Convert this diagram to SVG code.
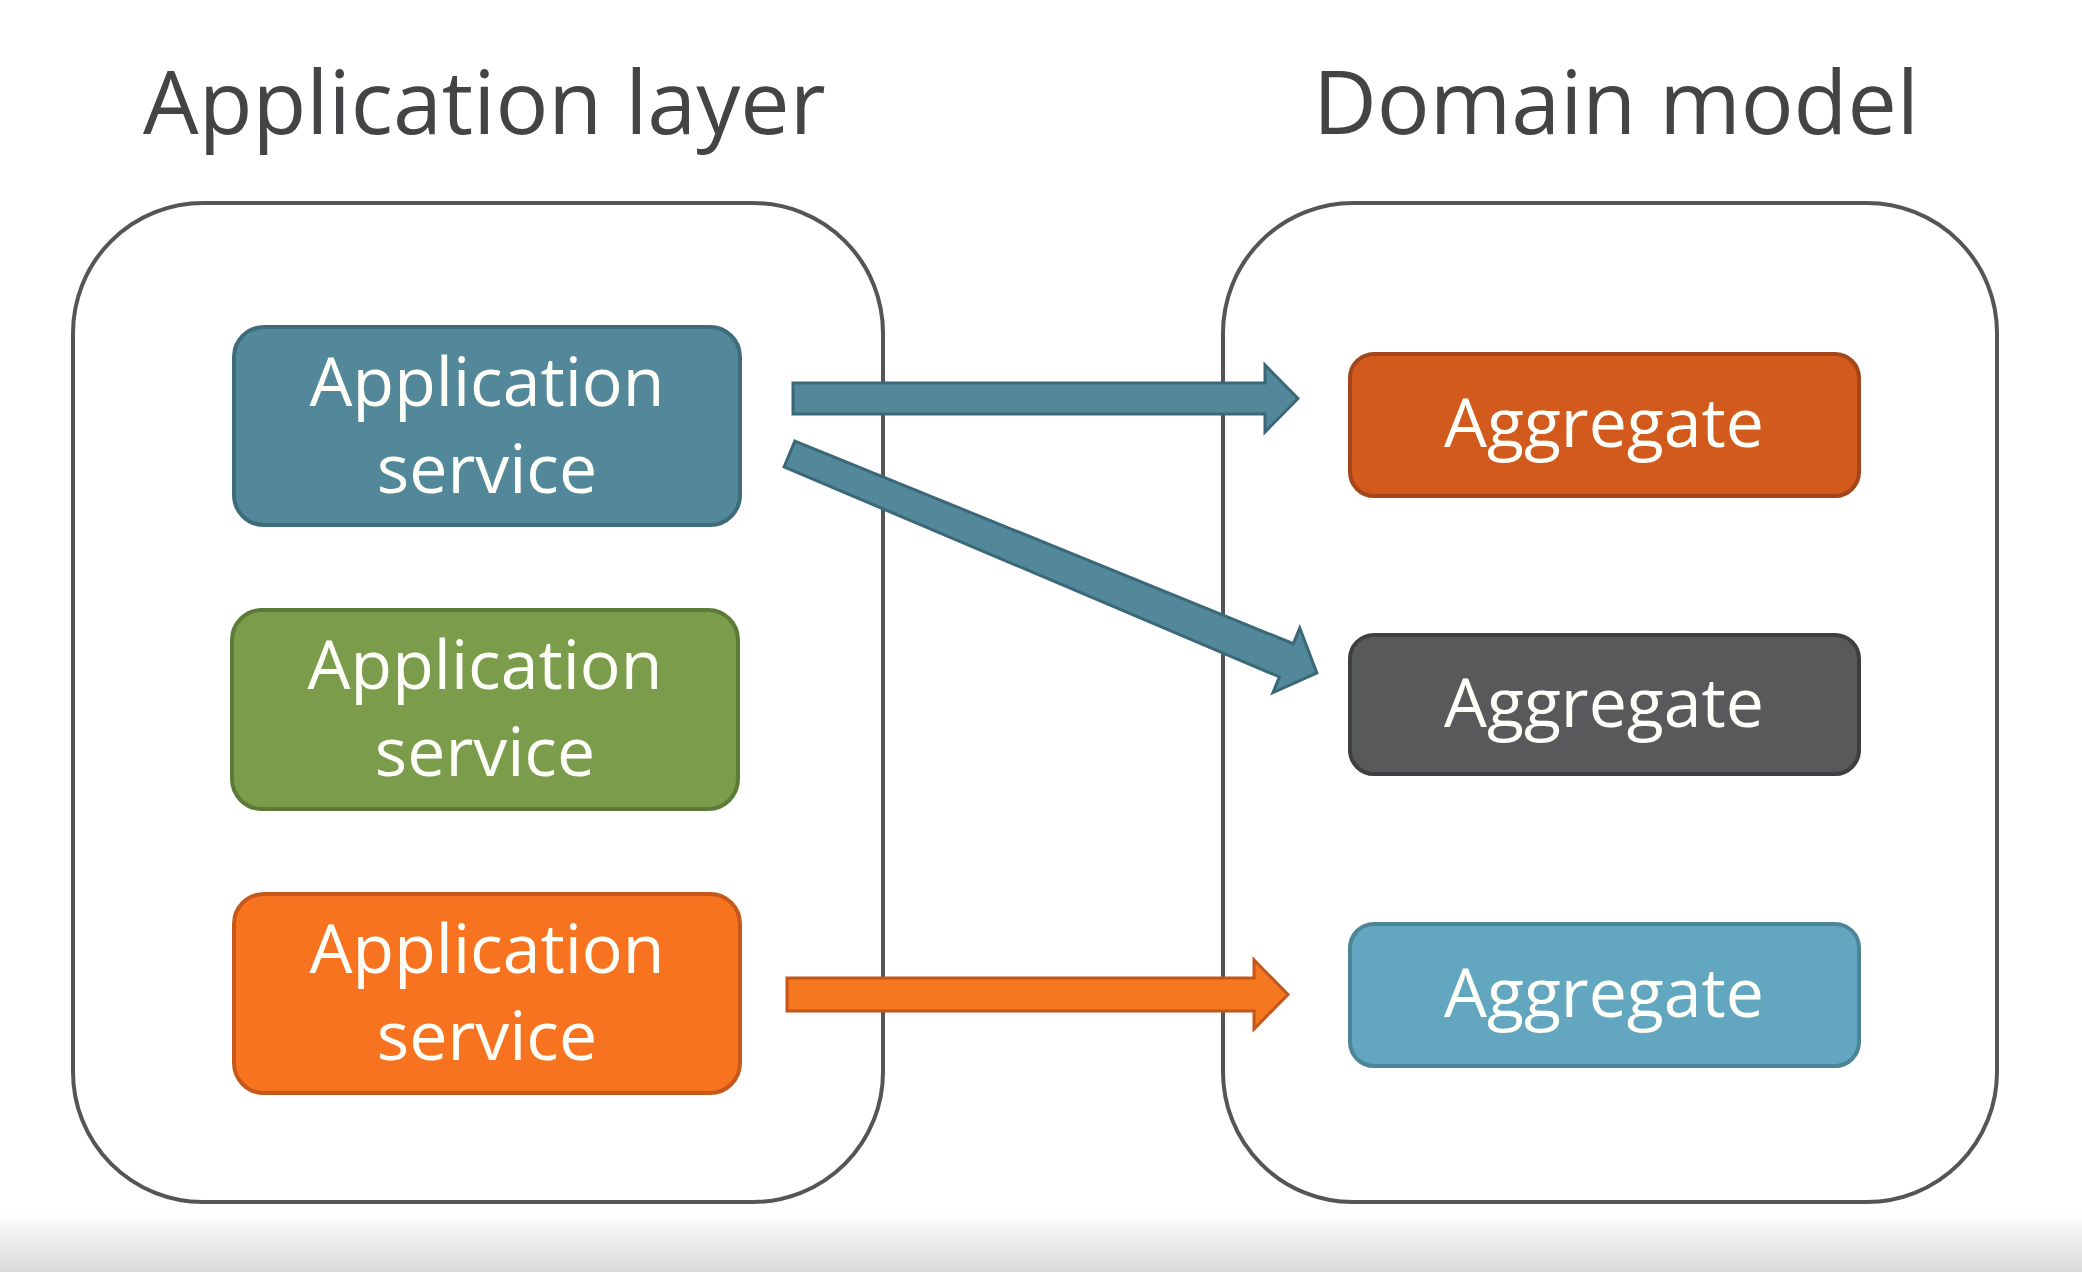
<svg xmlns="http://www.w3.org/2000/svg" width="2082" height="1272" viewBox="0 0 2082 1272">
<defs>
<linearGradient id="band" x1="0" y1="0" x2="0" y2="1">
<stop offset="0" stop-color="#ffffff"/>
<stop offset="1" stop-color="#d9d9d9"/>
</linearGradient>
<style>
.title{font-family:"Open Sans","Noto Sans","Liberation Sans",sans-serif;font-size:88px;fill:#444446;}
.lbl{font-family:"Open Sans","Noto Sans","Liberation Sans",sans-serif;font-size:68px;fill:#fffffa;text-anchor:middle;}
.cont{fill:#ffffff;stroke:#555557;stroke-width:4;}
.box{stroke-width:4;}
.teal{fill:#528899;stroke:#3e6c7b;}
.green{fill:#7a9c4b;stroke:#5c7b37;}
.orange{fill:#f7731f;stroke:#c6581b;}
.agg1{fill:#d25a1c;stroke:#a5461a;}
.agg2{fill:#58595b;stroke:#3f3f41;}
.agg3{fill:#62a7bf;stroke:#4c8598;}
.arT{fill:#52889a;stroke:#3b6878;stroke-width:3;stroke-linejoin:miter;}
.arO{fill:#f5771f;stroke:#c4561a;stroke-width:3;stroke-linejoin:miter;}
</style>
</defs>
<rect x="0" y="0" width="2082" height="1272" fill="#ffffff"/>
<rect x="0" y="1212" width="2082" height="60" fill="url(#band)"/>

<text class="title" x="143" y="134">Application layer</text>
<text class="title" x="1313" y="134">Domain model</text>

<g id="application-layer">
<rect class="cont" x="73" y="203" width="810" height="999" rx="130" ry="130"/>
</g>
<g id="domain-model">
<rect class="cont" x="1223" y="203" width="774" height="999" rx="130" ry="130"/>
</g>

<g id="app-service-1">
<rect class="box teal" x="234" y="327" width="506" height="198" rx="30"/>
<text class="lbl" x="487" y="406">Application</text>
<text class="lbl" x="487" y="493">service</text>
</g>
<g id="app-service-2">
<rect class="box green" x="232" y="610" width="506" height="199" rx="30"/>
<text class="lbl" x="485" y="689">Application</text>
<text class="lbl" x="485" y="776">service</text>
</g>
<g id="app-service-3">
<rect class="box orange" x="234" y="894" width="506" height="199" rx="30"/>
<text class="lbl" x="487" y="973">Application</text>
<text class="lbl" x="487" y="1060">service</text>
</g>

<g id="aggregate-1">
<rect class="box agg1" x="1350" y="354" width="509" height="142" rx="24"/>
<text class="lbl" x="1604" y="447">Aggregate</text>
</g>
<g id="aggregate-2">
<rect class="box agg2" x="1350" y="635" width="509" height="139" rx="24"/>
<text class="lbl" x="1604" y="727">Aggregate</text>
</g>
<g id="aggregate-3">
<rect class="box agg3" x="1350" y="924" width="509" height="142" rx="24"/>
<text class="lbl" x="1604" y="1017">Aggregate</text>
</g>

<g id="connectors">
<polygon class="arT" points="793,383 1265,383 1265,365 1298,398.5 1265,432 1265,414 793,414"/>
<polygon class="arT" transform="translate(789.5,454) rotate(22.55)" points="0,-14 538,-18 538,-35 571,0 538,35 538,18 0,14"/>
<polygon class="arO" points="787,978 1254,978 1254,960 1288,994.5 1254,1029 1254,1011 787,1011"/>
</g>
</svg>
